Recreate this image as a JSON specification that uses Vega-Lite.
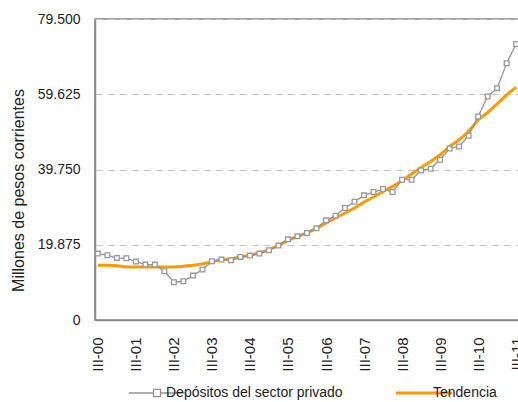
{
  "$schema": "https://vega.github.io/schema/vega-lite/v6.json",
  "autosize": {"type": "none"},
  "padding": {"left": 95, "top": 19, "right": 0, "bottom": 82},
  "width": 424,
  "height": 301,
  "config": {
    "locale": {"number": {"decimal": ",", "thousands": ".", "grouping": [3], "currency": ["$", ""]}},
    "view": {"stroke": "#868686", "strokeWidth": 1.5},
    "font": "Liberation Sans"
  },
  "data": {
    "values": [
      {"t": "III-00", "Depósitos del sector privado": 17540, "Tendencia": 14450},
      {"t": "IV-00", "Depósitos del sector privado": 17090, "Tendencia": 14450},
      {"t": "I-01", "Depósitos del sector privado": 16400, "Tendencia": 14360},
      {"t": "II-01", "Depósitos del sector privado": 16300, "Tendencia": 14030},
      {"t": "III-01", "Depósitos del sector privado": 15430, "Tendencia": 14030},
      {"t": "IV-01", "Depósitos del sector privado": 14640, "Tendencia": 14030},
      {"t": "I-02", "Depósitos del sector privado": 14640, "Tendencia": 14030},
      {"t": "II-02", "Depósitos del sector privado": 12870, "Tendencia": 14030},
      {"t": "III-02", "Depósitos del sector privado": 9970, "Tendencia": 14030},
      {"t": "IV-02", "Depósitos del sector privado": 10230, "Tendencia": 14190},
      {"t": "I-03", "Depósitos del sector privado": 11730, "Tendencia": 14450},
      {"t": "II-03", "Depósitos del sector privado": 13320, "Tendencia": 14820},
      {"t": "III-03", "Depósitos del sector privado": 15510, "Tendencia": 15350},
      {"t": "IV-03", "Depósitos del sector privado": 15950, "Tendencia": 15950},
      {"t": "I-04", "Depósitos del sector privado": 15770, "Tendencia": 16130},
      {"t": "II-04", "Depósitos del sector privado": 16660, "Tendencia": 16660},
      {"t": "III-04", "Depósitos del sector privado": 17010, "Tendencia": 17100},
      {"t": "IV-04", "Depósitos del sector privado": 17540, "Tendencia": 17720},
      {"t": "I-05", "Depósitos del sector privado": 18410, "Tendencia": 18590},
      {"t": "II-05", "Depósitos del sector privado": 19650, "Tendencia": 19720},
      {"t": "III-05", "Depósitos del sector privado": 21300, "Tendencia": 21040},
      {"t": "IV-05", "Depósitos del sector privado": 22100, "Tendencia": 22100},
      {"t": "I-06", "Depósitos del sector privado": 22990, "Tendencia": 23000},
      {"t": "II-06", "Depósitos del sector privado": 24210, "Tendencia": 24200},
      {"t": "III-06", "Depósitos del sector privado": 26320, "Tendencia": 25630},
      {"t": "IV-06", "Depósitos del sector privado": 27560, "Tendencia": 26950},
      {"t": "I-07", "Depósitos del sector privado": 29590, "Tendencia": 28270},
      {"t": "II-07", "Depósitos del sector privado": 31250, "Tendencia": 29590},
      {"t": "III-07", "Depósitos del sector privado": 32920, "Tendencia": 31170},
      {"t": "IV-07", "Depósitos del sector privado": 33800, "Tendencia": 32490},
      {"t": "I-08", "Depósitos del sector privado": 34590, "Tendencia": 33970},
      {"t": "II-08", "Depósitos del sector privado": 33800, "Tendencia": 35280},
      {"t": "III-08", "Depósitos del sector privado": 37050, "Tendencia": 36790},
      {"t": "IV-08", "Depósitos del sector privado": 37050, "Tendencia": 38550},
      {"t": "I-09", "Depósitos del sector privado": 39500, "Tendencia": 40290},
      {"t": "II-09", "Depósitos del sector privado": 39950, "Tendencia": 41870},
      {"t": "III-09", "Depósitos del sector privado": 42320, "Tendencia": 43640},
      {"t": "IV-09", "Depósitos del sector privado": 45300, "Tendencia": 45830},
      {"t": "I-10", "Depósitos del sector privado": 45830, "Tendencia": 47600},
      {"t": "II-10", "Depósitos del sector privado": 48650, "Tendencia": 49790},
      {"t": "III-10", "Depósitos del sector privado": 53740, "Tendencia": 52870},
      {"t": "IV-10", "Depósitos del sector privado": 59020, "Tendencia": 54800},
      {"t": "I-11", "Depósitos del sector privado": 61230, "Tendencia": 57090},
      {"t": "II-11", "Depósitos del sector privado": 67820, "Tendencia": 59460},
      {"t": "III-11", "Depósitos del sector privado": 72900, "Tendencia": 61490}
    ]
  },
  "transform": [
    {"fold": ["Depósitos del sector privado", "Tendencia"], "as": ["serie", "valor"]}
  ],
  "encoding": {
    "x": {
      "field": "t", "type": "ordinal", "sort": null,
      "scale": {"type": "point", "padding": 0.3},
      "axis": {
        "title": null,
        "values": ["III-00","III-01","III-02","III-03","III-04","III-05","III-06","III-07","III-08","III-09","III-10","III-11"],
        "labelAngle": 270,
        "labelFontSize": 15,
        "labelColor": "#222222",
        "labelPadding": 17,
        "labelOverlap": false,
        "labelBound": false,
        "ticks": false,
        "grid": false,
        "domainColor": "#868686",
        "domainWidth": 1.5
      }
    },
    "y": {
      "field": "valor", "type": "quantitative",
      "scale": {"domain": [0, 79500], "nice": false, "zero": true},
      "axis": {
        "title": "Millones de pesos corrientes",
        "titleFontSize": 16,
        "titleFontWeight": "normal",
        "titleColor": "#222222",
        "titleAngle": 270,
        "titleX": -77,
        "titleY": 171,
        "titleAlign": "center",
        "titleBaseline": "middle",
        "values": [0, 19875, 39750, 59625, 79500],
        "format": ",d",
        "labelFontSize": 14,
        "labelColor": "#222222",
        "labelPadding": 15,
        "ticks": false,
        "grid": true,
        "gridColor": "#c4c4c4",
        "gridDash": [7, 5],
        "gridWidth": 1,
        "domainColor": "#868686",
        "domainWidth": 1.5
      }
    }
  },
  "layer": [
    {
      "transform": [{"filter": "datum.serie === 'Tendencia'"}],
      "mark": {"type": "line", "strokeWidth": 3},
      "encoding": {
        "color": {
          "field": "serie", "type": "nominal",
          "scale": {"domain": ["Depósitos del sector privado", "Tendencia"], "range": ["#939393", "#FF9900"]},
          "legend": {
            "orient": "none",
            "legendX": 55,
            "legendY": 367,
            "direction": "horizontal",
            "title": null,
            "labelFontSize": 14,
            "labelColor": "#222222",
            "labelLimit": 400,
            "symbolSize": 3200,
            "columnPadding": 46,
            "labelOffset": 2,
            "symbolStrokeWidth": 2,
            "encode": {
              "symbols": {
                "update": {
                  "shape": {"signal": "datum.value === 'Tendencia' ? 'M-1,0H1' : 'M-1,0H-0.125M0.125,0H1M-0.125,-0.125H0.125V0.125H-0.125Z'"},
                  "strokeWidth": {"signal": "datum.value === 'Tendencia' ? 3 : 1.3"}
                }
              }
            }
          }
        }
      }
    },
    {
      "transform": [{"filter": "datum.serie === 'Depósitos del sector privado'"}],
      "mark": {"type": "line", "strokeWidth": 1.3},
      "encoding": {
        "color": {"field": "serie", "type": "nominal"}
      }
    },
    {
      "transform": [{"filter": "datum.serie === 'Depósitos del sector privado'"}],
      "mark": {"type": "point", "shape": "square", "size": 22, "filled": true, "fill": "#ffffff", "stroke": "#999999", "strokeWidth": 1.3, "opacity": 1}
    }
  ]
}
